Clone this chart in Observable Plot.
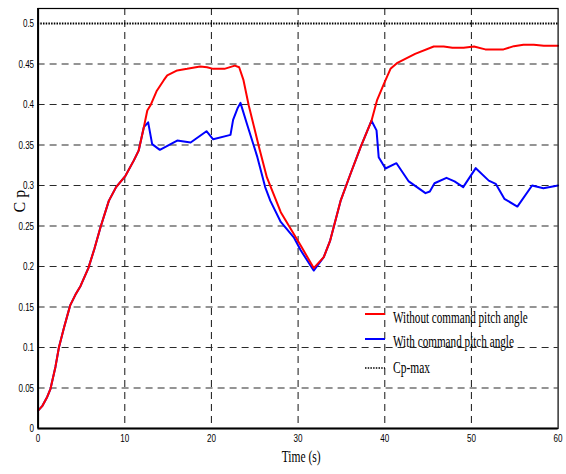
<!DOCTYPE html>
<html>
<head>
<meta charset="utf-8">
<script src="https://cdn.jsdelivr.net/npm/d3@7"></script>
<script src="https://cdn.jsdelivr.net/npm/@observablehq/plot@0.6"></script>
<style>
  html, body { margin: 0; padding: 0; background: white; }
  #chart { width: 566px; height: 474px; }
</style>
</head>
<body>
<div id="chart"></div>
<script>
// ---- data ----
const timeWithout = [0, 0.5, 1.05, 1.43, 2.0, 2.4, 3.0, 3.7, 4.3, 4.9, 5.8, 6.5, 7.2, 8.16, 9.0, 10.08, 11.05, 11.6, 12.2, 12.6, 12.97, 13.7, 14.5, 14.9, 16.05, 17.2, 18.7, 19.5, 20.2, 21.5, 22.7, 23.2, 23.7, 24.3, 25.5, 26.4, 28.0, 30.3, 31.8, 32.96, 33.7, 34.9, 36.05, 37.2, 38.47, 39.1, 39.9, 40.66, 41.4, 43.5, 45.65, 46.8, 47.8, 49.1, 50.3, 51.6, 53.7, 54.9, 56.0, 57.2, 58.35, 60];
const cpWithout = [0.022, 0.028, 0.039, 0.049, 0.076, 0.1, 0.125, 0.152, 0.165, 0.176, 0.198, 0.222, 0.2485, 0.281, 0.298, 0.312, 0.331, 0.343, 0.372, 0.3926, 0.399, 0.417, 0.43, 0.436, 0.442, 0.444, 0.447, 0.446, 0.444, 0.444, 0.448, 0.446, 0.43, 0.399, 0.347, 0.31, 0.267, 0.226, 0.198, 0.2115, 0.232, 0.281, 0.3145, 0.347, 0.380, 0.405, 0.4255, 0.444, 0.451, 0.4625, 0.4716, 0.4716, 0.47, 0.47, 0.4716, 0.468, 0.468, 0.472, 0.4737, 0.4737, 0.4725, 0.4725];

const timeWith = [0, 0.5, 1.05, 1.43, 2.0, 2.4, 3.0, 3.7, 4.3, 4.9, 5.8, 6.5, 7.2, 8.16, 9.0, 10.08, 11.05, 11.6, 12.2, 12.7, 13.16, 14.05, 16.05, 17.6, 19.43, 20.2, 22.2, 22.5, 23.0, 23.35, 24.1, 25.3, 26.2, 26.8, 28.0, 29.5, 30.3, 31.8, 32.96, 33.7, 34.9, 36.05, 37.2, 38.47, 39.05, 39.3, 40.08, 41.35, 42.77, 44.7, 45.2, 45.74, 47.12, 48.05, 49.05, 50.5, 52.0, 52.8, 53.8, 55.3, 57.0, 58.3, 60];
const cpWith = [0.022, 0.028, 0.039, 0.049, 0.076, 0.1, 0.125, 0.152, 0.165, 0.176, 0.198, 0.222, 0.2485, 0.281, 0.298, 0.312, 0.331, 0.343, 0.372, 0.378, 0.351, 0.344, 0.3555, 0.353, 0.367, 0.357, 0.3625, 0.381, 0.395, 0.402, 0.376, 0.335, 0.298, 0.281, 0.255, 0.236, 0.22, 0.195, 0.2115, 0.232, 0.281, 0.3145, 0.347, 0.380, 0.368, 0.335, 0.321, 0.3275, 0.305, 0.2905, 0.2926, 0.3028, 0.3095, 0.305, 0.298, 0.3214, 0.306, 0.302, 0.2835, 0.274, 0.300, 0.2967, 0.300];

const cpMax = [0.5];

const xTicks = [0, 10, 20, 30, 40, 50, 60];
const xTickLabels = ["0", "10", "20", "30", "40", "50", "60"];
const yTicks = [0, 0.05, 0.1, 0.15, 0.2, 0.25, 0.3, 0.35, 0.4, 0.45, 0.5];
const yTickLabels = ["0", "0.05", "0.1", "0.15", "0.2", "0.25", "0.3", "0.35", "0.4", "0.45", "0.5"];

const seriesNames = ["Without command pitch angle", "With command pitch angle", "Cp-max"];
const xLabel = "Time (s)";
const yLabel = "C p";

// ---- build tables ----
const redData = timeWithout.map((t, i) => ({t, cp: cpWithout[i]}));
const blueData = timeWith.map((t, i) => ({t, cp: cpWith[i]}));

const tickFont = "'Liberation Sans Narrow', 'Liberation Sans', Arial, sans-serif";
const serifFont = "'Liberation Serif', 'Times New Roman', serif";

const chart = Plot.plot({
  width: 566,
  height: 474,
  marginLeft: 37.6,
  marginRight: 8.4,
  marginTop: 8,
  marginBottom: 46,
  style: {fontFamily: tickFont, fontSize: "11.5px", background: "white", color: "black"},
  x: {domain: [0, 60]},
  y: {domain: [0, 0.5185]},
  marks: [
    Plot.gridX(xTicks.slice(1, -1), {stroke: "#2a2a2a", strokeOpacity: 1, strokeDasharray: "7,5", strokeWidth: 1.1}),
    Plot.gridY(yTicks.slice(1, -1), {stroke: "#2a2a2a", strokeOpacity: 1, strokeDasharray: "7,5", strokeWidth: 1.1}),
    Plot.ruleY(cpMax, {stroke: "black", strokeWidth: 1.8, strokeDasharray: "1.5,1.2"}),
    Plot.line(blueData, {x: "t", y: "cp", stroke: "#0000ff", strokeWidth: 2}),
    Plot.line(redData, {x: "t", y: "cp", stroke: "#ff0000", strokeWidth: 2}),
    Plot.frame({stroke: "black", strokeWidth: 1.2}),
    Plot.ruleX([0], {stroke: "black", strokeWidth: 2}),
    Plot.ruleY([0], {stroke: "black", strokeWidth: 2}),
    Plot.axisX(xTicks, {tickSize: 0, tickPadding: 5, tickFormat: (d, i) => xTickLabels[i], label: null, className: "xax"}),
    Plot.axisY(yTicks, {tickSize: 0, tickPadding: 4, tickFormat: (d, i) => yTickLabels[i], label: null, className: "yax"}),
    Plot.text([xLabel], {frameAnchor: "bottom", dx: 3, dy: 33, fontFamily: serifFont, fontSize: 16, fill: "black", className: "xlab"}),
    Plot.text([yLabel], {frameAnchor: "left", dx: -18, dy: -6, rotate: -90, fontFamily: serifFont, fontSize: 16, fill: "black", className: "ylab"})
  ]
});

document.getElementById("chart").appendChild(chart);

// condense texts horizontally, like the reference's narrow lettering
function condense(sel, factor) {
  d3.select(chart).selectAll(sel).each(function () {
    const w = this.getComputedTextLength();
    this.setAttribute("textLength", (w * factor).toFixed(1));
    this.setAttribute("lengthAdjust", "spacingAndGlyphs");
  });
}
condense(".xax text, .yax text", 0.7);
condense(".xlab text", 0.72);

// legend (inside the plot, lower right, no box)
const svg = d3.select(chart);
const legend = svg.append("g").attr("class", "legend").attr("text-anchor", "start");
const legendItems = [
  {name: seriesNames[0], stroke: "#ff0000", dash: null, width: 2, len: 135},
  {name: seriesNames[1], stroke: "#0000ff", dash: null, width: 2, len: 121},
  {name: seriesNames[2], stroke: "black", dash: "1.5,1.2", width: 1.6, len: 37}
];
const lineY = [314, 339, 368];
const textY = [317, 341, 367];
legendItems.forEach((d, i) => {
  legend.append("line")
    .attr("x1", 365).attr("x2", 385).attr("y1", lineY[i]).attr("y2", lineY[i])
    .attr("stroke", d.stroke).attr("stroke-width", d.width)
    .attr("stroke-dasharray", d.dash);
  const t = legend.append("text")
    .attr("x", 0).attr("y", 0).attr("dy", "0.35em")
    .attr("text-anchor", "start")
    .attr("font-family", serifFont).attr("font-size", 17)
    .attr("fill", "black")
    .text(d.name);
  const w = t.node().getComputedTextLength();
  t.attr("transform", `translate(393,${textY[i]}) scale(${(d.len / w).toFixed(3)},1)`);
});
</script>
</body>
</html>
